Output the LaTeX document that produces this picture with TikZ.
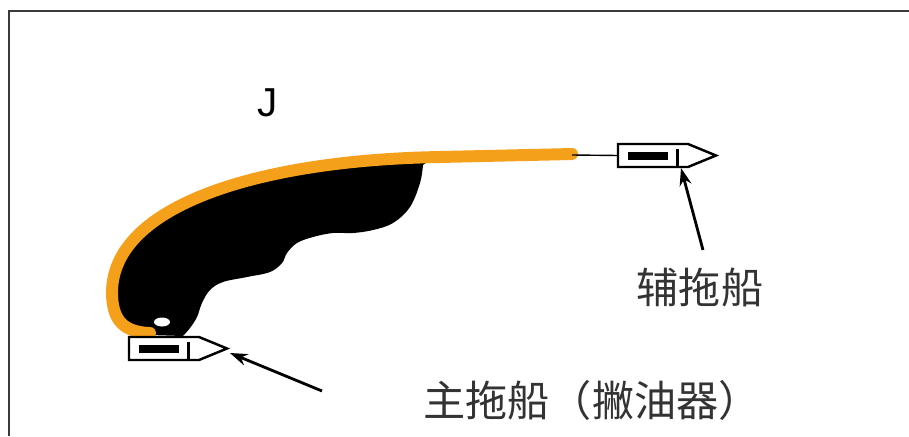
\documentclass[tikz,border=0pt]{standalone}
\usepackage{fontspec}
\newfontfamily\cjk{Noto Sans CJK SC}
\newfontfamily\arial{Liberation Sans}
\usetikzlibrary{arrows.meta}
\definecolor{boomorange}{HTML}{F5A01A}
\definecolor{framegray}{HTML}{3A3A3A}
\definecolor{labelgray}{HTML}{333333}

\tikzset{
  hull/.style={draw=black, fill=white, line width=1.4pt, line join=miter},
  pointer/.style={-{Stealth[length=3.5mm, width=2.4mm]}, line width=1.6pt},
  cjklabel/.style={text=labelgray, font=\cjk\fontsize{24}{28}\selectfont, inner sep=0pt},
  boat/.pic={
    \draw[hull] (0,-11.5) -- (70,-11.5) -- (98,0) -- (70,11.5) -- (0,11.5) -- cycle;
    \fill (10,-3.5) rectangle (50,4.5);
    \fill (57.5,-7) rectangle (61,11.5);
    \coordinate (-stern) at (0,0);
  }
}

\begin{document}
\begin{tikzpicture}[x=0.02cm, y=-0.02cm]
\useasboundingbox (0,0) rectangle (909,436);

% --- Frame ---
\draw[framegray, line width=1.2pt] (9,436) -- (9,11) -- (909,11);

% --- Oil slick held by the boom ---
\fill[black] (430,160) .. controls (260,162) and (118,205) .. (117,292)
  .. controls (117,318) and (128,331) .. (150,335)
  -- plot[smooth, tension=0.6] coordinates {(183,336) (190,328) (197,317) (202,303)
    (210,290) (223,282) (247,277) (270,272) (282,263) (287,253) (297,243) (313,237)
    (333,233) (353,233) (373,230) (393,223) (410,207) (420,183) (423,165)}
  -- cycle;
\fill[white] (162,322) ellipse [x radius=8, y radius=4.5];

% --- Boom ---
\draw[boomorange, line width=6.8pt, line cap=round] (572,154) -- (440,157)
  .. controls (260,160) and (113,205) .. (112,292)
  .. controls (112,322) and (125,332) .. (150,333);
\coordinate (boomend) at (572,155);

% --- Boats ---
\pic (main) at (129,348.5) {boat};
\pic (aux) at (618,155.5) {boat};
\draw[line width=0.8pt] (boomend) -- (aux-stern);

% --- Labels ---
\node[font=\arial\fontsize{23}{27}\selectfont, inner sep=0pt] (jmark) at (268,103) {J};
\node[cjklabel] (auxlabel) at (700,288) {辅拖船};
\node[cjklabel, anchor=west] (mainlabel) at (423,400) {主拖船（撇油器）};

\coordinate (auxfoot) at (703,250);
\coordinate (auxbow) at (681,168);
\coordinate (mainfoot) at (322,391);
\coordinate (mainbow) at (230,353);
\draw[pointer] (auxfoot) -- (auxbow);
\draw[pointer] (mainfoot) -- (mainbow);

\end{tikzpicture}
\end{document}
